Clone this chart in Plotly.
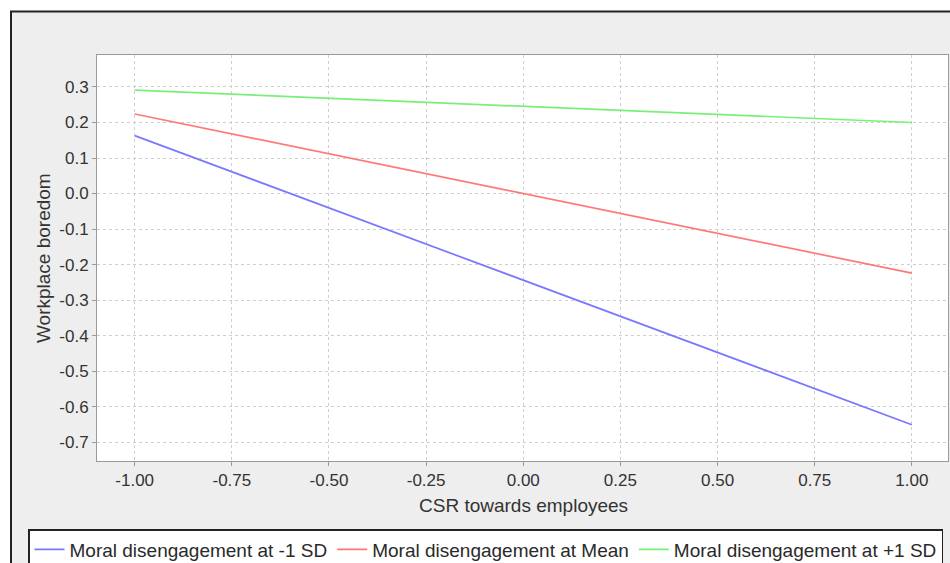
import plotly.graph_objects as go

# Data
x_vals = [-1.0, 1.0]
series_names = [
    "Moral disengagement at -1 SD",
    "Moral disengagement at Mean",
    "Moral disengagement at +1 SD",
]
low_sd = [0.163, -0.651]
mean_vals = [0.224, -0.224]
high_sd = [0.291, 0.200]
series_values = [low_sd, mean_vals, high_sd]
series_colors = ["#7878ff", "#ff7878", "#78f078"]

x_ticks = [-1.0, -0.75, -0.5, -0.25, 0.0, 0.25, 0.5, 0.75, 1.0]
x_tick_text = ["-1.00", "-0.75", "-0.50", "-0.25", "0.00", "0.25", "0.50", "0.75", "1.00"]
y_ticks = [0.3, 0.2, 0.1, 0.0, -0.1, -0.2, -0.3, -0.4, -0.5, -0.6, -0.7]
y_tick_text = ["0.3", "0.2", "0.1", "0.0", "-0.1", "-0.2", "-0.3", "-0.4", "-0.5", "-0.6", "-0.7"]

FONT = "Liberation Sans, Arial, sans-serif"

fig = go.Figure()
for name, vals, col in zip(series_names, series_values, series_colors):
    fig.add_trace(go.Scatter(x=x_vals, y=vals, mode="lines", name=name,
                             line=dict(color=col, width=1.7)))

W, H = 950, 563
L, R, T, B = 97, 2, 55, 102
pw, ph = W - L - R, H - T - B

def px_x(p):
    return (p - L) / pw

def px_y(p):
    return (H - B - p) / ph

axis_common = dict(
    showgrid=True, gridcolor="#cfcfcf", griddash="3px,3px", gridwidth=1,
    showline=True, linecolor="#9a9a9a", linewidth=1, mirror=True,
    ticks="outside", ticklen=4, tickcolor="#9a9a9a",
    tickfont=dict(family=FONT, size=17, color="#333333"),
    zeroline=False,
)

fig.update_layout(
    width=W, height=H,
    margin=dict(l=L, r=R, t=T, b=B, autoexpand=False),
    paper_bgcolor="white", plot_bgcolor="white",
    xaxis=dict(range=[-1.097, 1.093], tickvals=x_ticks, ticktext=x_tick_text, **axis_common),
    yaxis=dict(range=[-0.753, 0.390], tickvals=y_ticks, ticktext=y_tick_text, **axis_common),
    showlegend=True,
    legend=dict(orientation="h", x=px_x(28), y=px_y(529), xanchor="left", yanchor="top",
                bgcolor="white", bordercolor="#222222", borderwidth=1.5,
                font=dict(family=FONT, size=19, color="#2a2a2a")),
    shapes=[
        dict(type="rect", xref="paper", yref="paper", layer="below",
             x0=px_x(11), x1=px_x(1000), y0=px_y(700), y1=px_y(11.5),
             fillcolor="#eeeeee", line=dict(color="#222222", width=2)),
        dict(type="rect", xref="paper", yref="paper", layer="below",
             x0=0, x1=1, y0=0, y1=1, fillcolor="white", line=dict(width=0)),
    ],
    annotations=[
        dict(text="CSR towards employees", xref="paper", yref="paper",
             x=px_x(523.5), y=px_y(506), xanchor="center", yanchor="middle",
             showarrow=False, font=dict(family=FONT, size=19, color="#333333")),
        dict(text="Workplace boredom", xref="paper", yref="paper",
             x=px_x(43), y=px_y(258), xanchor="center", yanchor="middle", textangle=-90,
             showarrow=False, font=dict(family=FONT, size=19, color="#333333")),
    ],
)

fig.write_html("out.html",
               config={"displayModeBar": False},
               post_script="document.body.style.margin='0';document.body.style.overflow='hidden';")
